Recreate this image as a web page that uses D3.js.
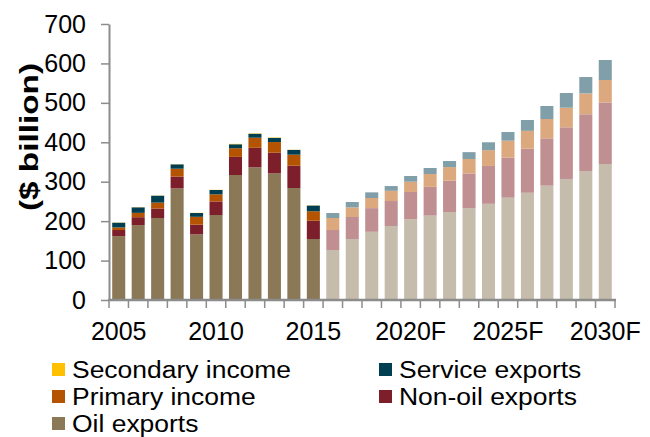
<!DOCTYPE html>
<html>
<head>
<meta charset="utf-8">
<script src="https://cdn.jsdelivr.net/npm/d3@7"></script>
<style>
  html, body { margin: 0; padding: 0; background: #fff; }
  svg { display: block; font-family: "Liberation Sans", Arial, sans-serif; }
</style>
</head>
<body>
<svg id="chart" width="650" height="437"></svg>
<script>
// ---- Data ----
const years = ["2005","2006","2007","2008","2009","2010","2011","2012","2013","2014","2015",
               "2016","2017","2018","2019","2020","2021","2022","2023","2024","2025","2026","2027","2028","2029","2030"];
const forecastFrom = "2016";
const oilExports     = [162,190,208,283,166.5,215.6,317,336.5,321,284,154.7,
                        126.8,154.7,173,187.7,205,214,223,233,244,259.5,272,290,307,327,345];
const nonOilExports  = [15.5,20,24,30,24.5,34.4,46,49.5,52.6,56.6,46.3,
                        50.7,55.8,60,63.3,69,73,79.6,88,96,101.5,111.7,120,131,144,156];
const primaryIncome  = [6.5,11,15,20,20,18,22,25.6,27,28,24,
                        30.5,24.5,25.7,26,26,32.6,34.4,36.6,40,43,45.3,49,49.7,53,57];
const serviceExports = [12,14,17.5,11,9.6,11,10,10,10.5,12,14.5,
                        12.6,13.5,14.3,12,14.5,15.2,15.5,17.4,20,22,27.5,33,37.3,41.5,50.7];
const secondaryIncome= [0.5,0.5,0.5,0.5,0.5,0.5,1,1,1,0.5,0.5,
                        0,0,0,0,0,0,0,0,0,0,0,0,0,0,0];
const yTicks = [0,100,200,300,400,500,600,700];
const xTickLabels = {"2005":"2005","2010":"2010","2015":"2015","2020":"2020F","2025":"2025F","2030":"2030F"};
const seriesNames = ["Oil exports","Non-oil exports","Primary income","Service exports","Secondary income"];
const colorsHist = ["#8b7857","#7d1f2a","#b45300","#003e52","#ffc000"];
const colorsFcst = ["#c5bcab","#bf8f92","#dca87d","#809fa9","#ffe07a"];
const legendOrder = [
  {name:"Secondary income", i:4, col:0, row:0},
  {name:"Service exports",  i:3, col:1, row:0},
  {name:"Primary income",   i:2, col:0, row:1},
  {name:"Non-oil exports",  i:1, col:1, row:1},
  {name:"Oil exports",      i:0, col:0, row:2}
];

// ---- Build table ----
const table = years.map((yr, k) => ({
  year: yr,
  "Oil exports": oilExports[k],
  "Non-oil exports": nonOilExports[k],
  "Primary income": primaryIncome[k],
  "Service exports": serviceExports[k],
  "Secondary income": secondaryIncome[k]
}));
const stacked = d3.stack().keys(seriesNames)(table);

const svg = d3.select("#chart");
const x = d3.scaleBand().domain(years).range([109, 615]).paddingInner(0.33).paddingOuter(0.165);
const y = d3.scaleLinear().domain([0, 700]).range([300, 24]);

// ---- Bars ----
stacked.forEach((layer, si) => {
  svg.append("g").selectAll("rect").data(layer).join("rect")
    .attr("x", d => x(d.data.year))
    .attr("width", x.bandwidth())
    .attr("y", d => y(d[1]))
    .attr("height", d => Math.max(0, y(d[0]) - y(d[1])))
    .attr("fill", d => (+d.data.year >= +forecastFrom ? colorsFcst[si] : colorsHist[si]));
});

const axisColor = "#8c8c8c";

// ---- Y axis ----
const yAxis = d3.axisLeft(y).tickValues(yTicks).tickSize(8).tickSizeOuter(0).tickPadding(15)
  .tickFormat(d3.format("d"));
const gy = svg.append("g").attr("transform", "translate(109,0)").call(yAxis);
gy.select(".domain").attr("stroke", axisColor).attr("stroke-width", 2);
gy.selectAll(".tick line").attr("stroke", axisColor).attr("stroke-width", 1.5);
gy.selectAll(".tick text").attr("font-size", 25).attr("fill", "#000")
  .attr("font-family", "Liberation Sans, Arial, sans-serif");

// ---- X axis ----
const step = x.step();
const boundaries = years.map(yr => x(yr) - x.paddingInner() * step / 2).concat([x(years[years.length-1]) + x.bandwidth() + x.paddingInner()*step/2]);
svg.append("line").attr("x1", 108).attr("x2", 616).attr("y1", 300).attr("y2", 300)
  .attr("stroke", axisColor).attr("stroke-width", 2.5);
svg.append("g").selectAll("line").data(boundaries).join("line")
  .attr("x1", d => d).attr("x2", d => d).attr("y1", 300).attr("y2", 308)
  .attr("stroke", axisColor).attr("stroke-width", 1.5);
svg.append("g").selectAll("text").data(years.filter(yr => xTickLabels[yr])).join("text")
  .attr("x", d => x(d) + x.bandwidth()/2)
  .attr("y", 340)
  .attr("text-anchor", "middle")
  .attr("font-size", 25)
  .attr("fill", "#000")
  .text(d => xTickLabels[d]);

// ---- Y title ----
svg.append("text")
  .attr("transform", "translate(38,137) rotate(-90)")
  .attr("text-anchor", "middle")
  .attr("font-size", 26)
  .attr("font-weight", "bold")
  .attr("fill", "#000")
  .attr("textLength", 148)
  .attr("lengthAdjust", "spacingAndGlyphs")
  .text("($ billion)");

// ---- Legend ----
const colX = [52, 379];
const rowY = [369, 396, 423];
const lg = svg.append("g").selectAll("g").data(legendOrder).join("g")
  .attr("transform", d => `translate(${colX[d.col]},${rowY[d.row]})`);
lg.append("rect").attr("x", 0).attr("y", -6).attr("width", 13).attr("height", 13)
  .attr("fill", d => colorsHist[d.i]);
lg.append("text").attr("x", 20).attr("y", 8.5).attr("font-size", 23).attr("fill", "#000")
  .text(d => d.name)
  .each(function() {
    const w = this.getComputedTextLength();
    d3.select(this).attr("textLength", w * 1.15).attr("lengthAdjust", "spacingAndGlyphs");
  });
</script>
</body>
</html>
